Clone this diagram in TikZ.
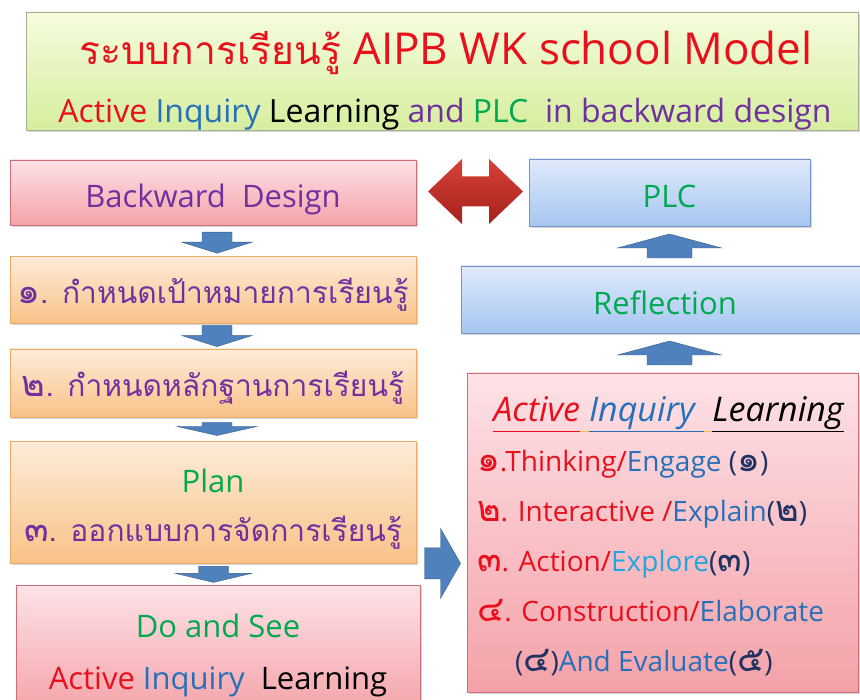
\documentclass[tikz,border=0pt]{standalone}
\usepackage{fontspec}
\setmainfont{Open Sans}
\newfontfamily\thaifont[Script=Thai]{Loma}
\usetikzlibrary{positioning,calc,shadows}

\definecolor{txtred}{RGB}{232,16,28}
\definecolor{txtblue}{RGB}{38,112,186}
\definecolor{txtsky}{RGB}{32,166,226}
\definecolor{txtnavy}{RGB}{32,50,100}
\definecolor{txtpurple}{RGB}{112,48,160}
\definecolor{txtgreen}{RGB}{0,168,80}
\definecolor{ulgold}{RGB}{240,192,64}
\definecolor{greentop}{RGB}{245,252,222}
\definecolor{greenbot}{RGB}{214,238,158}
\definecolor{greenedge}{RGB}{165,175,150}
\definecolor{pinktop}{RGB}{253,226,231}
\definecolor{pinkbot}{RGB}{244,162,168}
\definecolor{pinkedge}{RGB}{205,110,118}
\definecolor{orangetop}{RGB}{253,236,216}
\definecolor{orangebot}{RGB}{249,194,136}
\definecolor{orangeedge}{RGB}{236,172,104}
\definecolor{bluetop}{RGB}{224,234,251}
\definecolor{bluebot}{RGB}{166,198,241}
\definecolor{blueedge}{RGB}{118,148,200}
\definecolor{arrowfill}{RGB}{79,129,189}
\definecolor{arrowedge}{RGB}{56,93,138}
\definecolor{redtop}{RGB}{214,66,56}
\definecolor{redbot}{RGB}{166,32,28}

% Thai digit, set a bit larger than the text round it
\newcommand{\thdigit}[1]{{\thaifont\fontsize{36}{50}\selectfont #1}}
\newcommand{\vstrut}[2]{\rule[-#2]{0pt}{#1}}

\begin{document}
\begin{tikzpicture}[x=1pt,y=-1pt]
\tikzstyle{box}=[draw,rectangle,inner sep=0pt,align=center,
  drop shadow={shadow xshift=1.5pt,shadow yshift=-2pt,opacity=.3}]
\tikzstyle{titlebox}=[box,draw=greenedge,top color=greentop,bottom color=greenbot]
\tikzstyle{pinkbox}=[box,draw=pinkedge,top color=pinktop,bottom color=pinkbot]
\tikzstyle{orangebox}=[box,draw=orangeedge,top color=orangetop,bottom color=orangebot]
\tikzstyle{bluebox}=[box,draw=blueedge,top color=bluetop,bottom color=bluebot]
\tikzstyle{wide}=[minimum width=406pt]
\tikzstyle{boxfont}=[font=\fontsize{31}{52}\selectfont,text height=39pt,text depth=8pt]
\tikzstyle{thaitext}=[font=\thaifont\fontsize{30}{52}\selectfont,text=txtpurple,
  text height=34pt,text depth=6pt]
\tikzset{pics/blockarrow/.style n args={4}{code={
  \draw[fill=arrowfill,draw=arrowedge] (-#4,-#1/2) -- (#4,-#1/2) -- (#4,#1/2-#2)
    -- (#3,#1/2-#2) -- (0,#1/2) -- (-#3,#1/2-#2) -- (-#4,#1/2-#2) -- cycle;}}}

\path[use as bounding box] (0,0) rectangle (860,700);
\clip (0,0) rectangle (860,700);
\fill[white] (0,0) rectangle (860,700);

%% Title
\node[titlebox,minimum width=832pt,minimum height=118pt] (title) at (442,71) {};
\node[font=\fontsize{44}{44}\selectfont,text=txtred] (titlea) at ($(title.north)+(4,41)$)
  {{\thaifont\fontsize{39}{44}\selectfont ระบบการเรียนรู้} AIPB WK school Model};
\node[font=\fontsize{32}{32}\selectfont] (titleb) at ($(title.north)+(3,102)$)
  {\textcolor{txtred}{Active} \textcolor{txtblue}{Inquiry} Learning \textcolor{txtpurple}{and}
   \textcolor{txtgreen}{PLC}\ \ \textcolor{txtpurple}{in backward design}};

%% Backward design column
\node[pinkbox,wide,minimum height=65pt,boxfont,text=txtpurple] (bd) at (213,192.5) {Backward\ \ Design};
\node[orangebox,wide,minimum height=67pt,below=31pt of bd,thaitext] (s1) {\thdigit{๑}. กำหนดเป้าหมายการเรียนรู้};
\node[orangebox,wide,minimum height=68pt,below=25pt of s1,thaitext] (s2) {\thdigit{๒}. กำหนดหลักฐานการเรียนรู้};
\node[orangebox,wide,minimum height=122pt,below=24pt of s2,font=\fontsize{31}{49}\selectfont] (s3)
  {\vstrut{37pt}{0pt}\textcolor{txtgreen}{Plan}\\
   {\thaifont\fontsize{30}{49}\selectfont\color{txtpurple}\thdigit{๓}. ออกแบบการจัดการเรียนรู้}\vstrut{8pt}{8pt}};
\node[pinkbox,minimum width=404pt,minimum height=130pt,below=22pt of s3,xshift=5pt,
  font=\fontsize{31}{52}\selectfont] (s4)
  {\vstrut{34pt}{0pt}\textcolor{txtgreen}{Do and See}\\
   \textcolor{txtred}{Active} \textcolor{txtblue}{Inquiry}\ \ Learning\vstrut{8pt}{8pt}};

\pic at ($(bd.south)!.5!(s1.north)+(4,2)$) {blockarrow={21}{11}{35}{15}};
\pic at ($(s1.south)!.5!(s2.north)+(4,0)$) {blockarrow={21}{11}{35}{15}};
\pic at ($(s2.south)!.5!(s3.north)+(4,0)$) {blockarrow={13}{9}{40}{15}};
\pic at ($(s3.south)!.5!(s4.north)+(-2,0)$) {blockarrow={16}{9}{38}{15}};

%% PLC column
\node[bluebox,minimum width=281pt,minimum height=67pt,boxfont,text=txtgreen] (plc) at (669.5,192.5) {PLC};
\node[bluebox,minimum width=408pt,minimum height=67pt,boxfont,text=txtgreen] (refl) at (665,299.5) {Reflection};
\node[pinkbox,minimum width=391pt,minimum height=319pt] (act) at (662.5,532.5) {};
\node[font=\fontsize{34}{34}\selectfont\itshape,anchor=base] (acthead) at ($(act.north)+(6,49)$)
  {{\color{txtred}\underline{Active\vphantom{y}}}{\color{ulgold}\underline{\ \vphantom{y}}}%
   {\color{txtblue}\underline{Inquiry\ }}{\color{ulgold}\underline{\ \vphantom{y}}}%
   {\color{black}\underline{Learning}}};
\node[font=\fontsize{28}{50}\selectfont,align=left,anchor=north west,inner sep=0pt] (actlist)
  at ($(act.north west)+(10,77)$)
  {\textcolor{txtred}{\thdigit{๑}.Thinking/}\textcolor{txtblue}{Engage} \textcolor{txtnavy}{(\thdigit{๑})}\\
   \textcolor{txtred}{\thdigit{๒}. Interactive /}\textcolor{txtblue}{Explain}\textcolor{txtnavy}{(\thdigit{๒})}\\
   \textcolor{txtred}{\thdigit{๓}. Action/}\textcolor{txtsky}{Explore}\textcolor{txtnavy}{(\thdigit{๓})}\\
   \textcolor{txtred}{\thdigit{๔}. Construction/}\textcolor{txtblue}{Elaborate}\\
   \hspace*{38pt}\textcolor{txtnavy}{(\thdigit{๔})}\textcolor{txtblue}{And Evaluate}\textcolor{txtnavy}{(\thdigit{๕})}};

\pic[rotate=180] at ($(refl.north -| plc.south)!.5!(plc.south)$) {blockarrow={24}{14}{52}{22.5}};
\pic[rotate=180] at ($(act.north -| plc.south)!.5!(refl.south -| plc.south)$) {blockarrow={24}{14}{52}{22.5}};
\pic[rotate=90] at ($(s3.south east)!.5!(act.west |- s3.south)+(1,0)$) {blockarrow={36}{20}{35}{15.5}};

%% two-way arrow
\coordinate (dm) at ($(bd.east)!.5!(plc.west)+(3,-1)$);
\draw[draw=none,top color=redtop,bottom color=redbot] ($(dm)+(-47.5,0)$) -- ++(34,-32.5) -- ++(0,17.5)
  -- ++(27,0) -- ++(0,-17.5) -- ++(34,32.5) -- ++(-34,32.5) -- ++(0,-17.5) -- ++(-27,0) -- ++(0,17.5) -- cycle;
\end{tikzpicture}
\end{document}
